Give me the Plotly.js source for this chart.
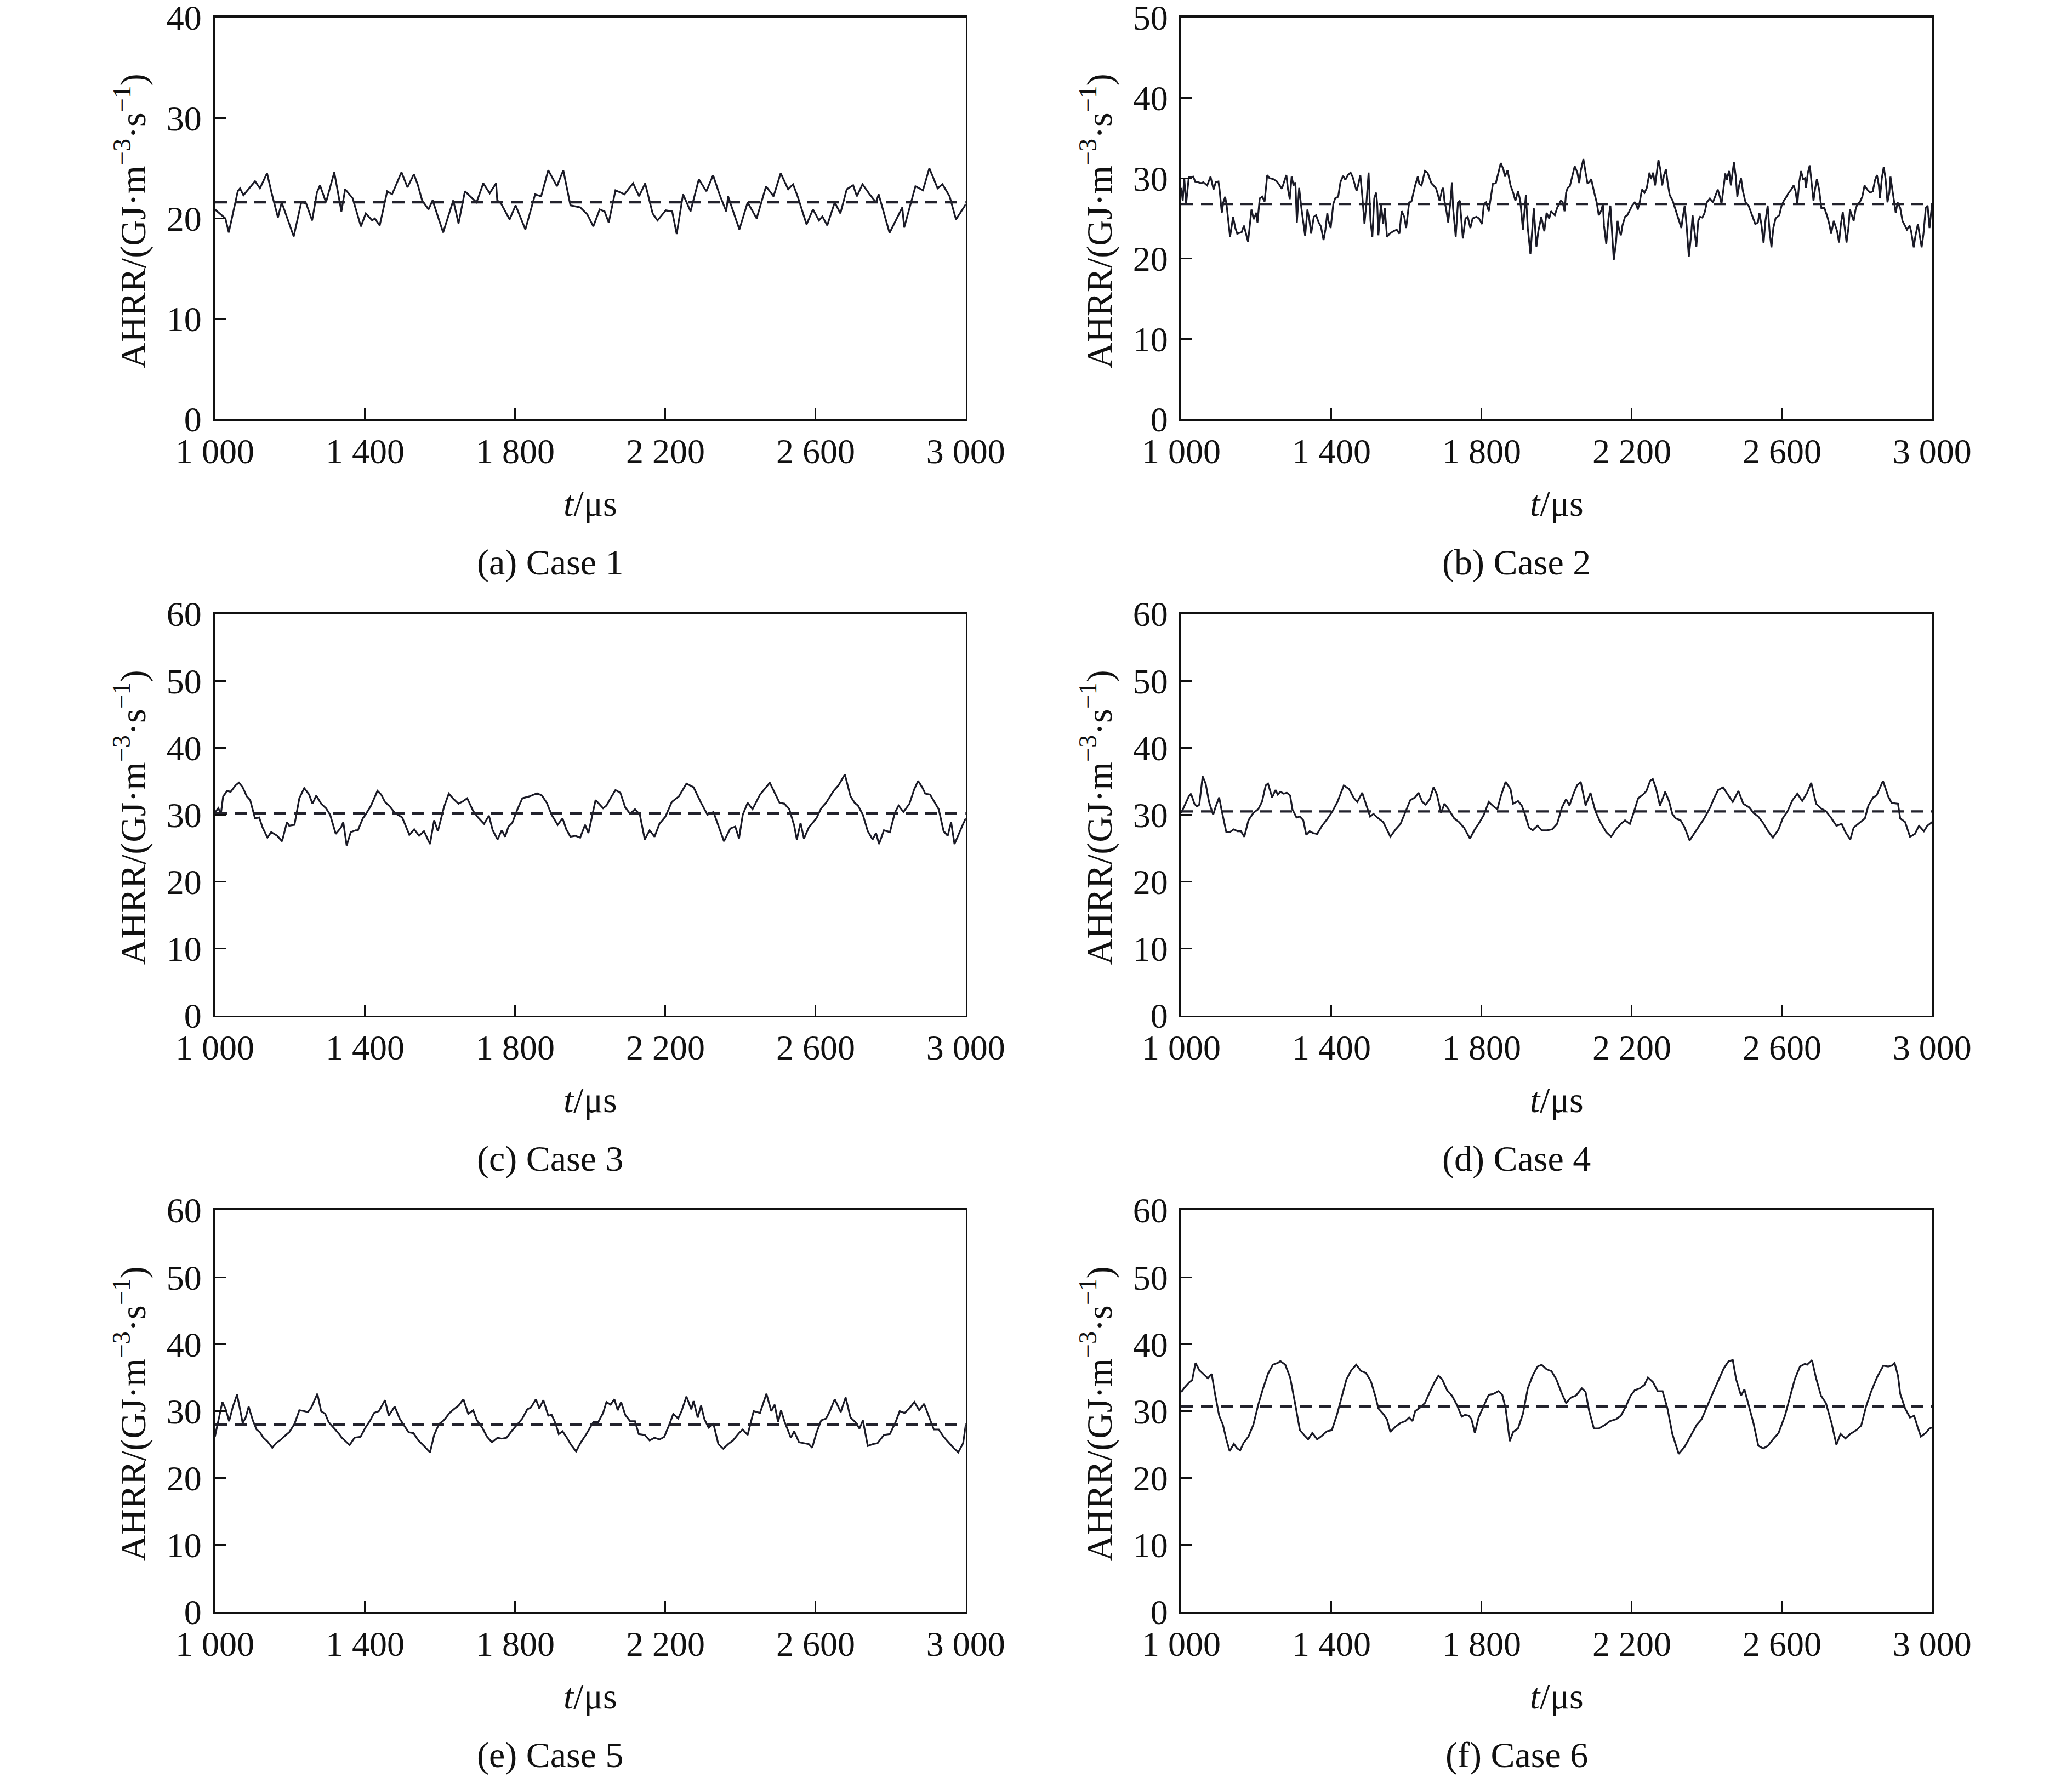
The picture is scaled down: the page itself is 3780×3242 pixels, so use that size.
<!DOCTYPE html>
<html>
<head>
<meta charset="utf-8">
<script src="https://cdn.plot.ly/plotly-3.0.1.min.js"></script>
<style>
  html, body { margin: 0; padding: 0; background: #fff; }
  #plot_ahrr { width: 3780px; height: 3242px; }
</style>
</head>
<body>
<div id="plot_ahrr"></div>
<script>
// time axis ticks (t / us)
var tickT = [1000, 1400, 1800, 2200, 2600, 3000];
var tickTText = ['1 000', '1 400', '1 800', '2 200', '2 600', '3 000'];

// y axis upper limits per case
var yMax = [40, 50, 60, 60, 60, 60];

// time-averaged AHRR (dashed lines)
var meanAHRR = [21.6, 26.8, 30.2, 30.5, 28.0, 30.7];

var caseLabels = ['(a) Case 1', '(b) Case 2', '(c) Case 3', '(d) Case 4', '(e) Case 5', '(f) Case 6'];

// ---- Case 1 ----
var timeA = [1000,1015,1028,1037,1061,1067,1076,1107,1120,1139,
  1152,1168,1178,1210,1230,1243,1259,1272,1280,1296,
  1318,1337,1347,1367,1389,1402,1419,1426,1439,1459,
  1472,1497,1513,1530,1540,1552,1569,1580,1608,1635,
  1649,1666,1697,1715,1732,1749,1752,1762,1785,1801,
  1827,1853,1869,1888,1911,1928,1947,1973,1992,2008,
  2025,2038,2049,2067,2091,2114,2130,2146,2166,2179,
  2201,2218,2230,2247,2267,2289,2309,2327,2344,2362,
  2367,2397,2419,2443,2468,2488,2507,2527,2540,2553,
  2576,2593,2609,2618,2631,2651,2666,2683,2700,2710,
  2725,2742,2761,2768,2797,2831,2836,2866,2886,2903,
  2925,2938,2957,2974,2986,3000];
var ahrrA = [20.9,20.4,20.0,18.6,22.7,23.0,22.3,23.7,23.0,24.5,
  22.4,20.1,21.6,18.2,21.6,21.5,19.8,22.6,23.3,21.6,
  24.6,20.7,22.9,22.0,19.2,20.5,19.8,20.0,19.3,22.7,
  22.4,24.6,23.1,24.4,23.4,21.8,20.9,21.8,18.6,21.8,
  19.5,22.7,21.6,23.5,22.5,23.5,21.8,21.5,19.9,21.3,
  18.9,22.4,22.2,24.8,23.2,24.8,21.3,21.1,20.4,19.2,
  20.9,20.7,19.6,22.8,22.4,23.5,22.2,23.5,20.5,19.8,
  20.8,20.7,18.45,22.4,20.7,23.9,22.7,24.3,22.4,20.7,
  22.2,18.9,21.6,20.0,23.2,22.2,24.5,22.9,23.4,22.1,
  19.4,20.9,19.8,20.2,19.3,21.6,20.5,22.9,23.3,22.2,
  23.4,22.5,21.6,22.4,18.55,21.1,19.1,23.2,22.8,25.0,
  23.0,23.4,22.2,19.9,20.6,21.4];

// ---- Case 2 ----
var timeB = [1000,1004,1008,1013,1020,1032,1037,1046,1053,1059,
  1069,1078,1086,1092,1099,1102,1108,1112,1117,1121,
  1130,1138,1144,1149,1161,1167,1178,1187,1193,1200,
  1203,1209,1216,1222,1229,1235,1245,1255,1268,1280,
  1284,1289,1294,1299,1304,1308,1314,1320,1330,1336,
  1341,1346,1353,1359,1366,1372,1379,1384,1389,1392,
  1398,1405,1410,1418,1424,1431,1437,1444,1451,1457,
  1467,1471,1477,1482,1488,1493,1499,1504,1509,1514,
  1519,1522,1525,1532,1538,1542,1548,1555,1565,1574,
  1581,1587,1594,1599,1607,1613,1623,1630,1634,1640,
  1649,1656,1666,1672,1679,1688,1695,1698,1701,1705,
  1711,1718,1721,1724,1731,1737,1742,1750,1757,1763,
  1770,1776,1786,1793,1801,1806,1812,1819,1825,1830,
  1838,1843,1851,1858,1862,1869,1877,1884,1890,1897,
  1903,1910,1913,1918,1923,1930,1934,1939,1946,1951,
  1959,1967,1973,1980,1985,1995,2001,2008,2011,2016,
  2021,2025,
  2029,2035,2048,2055,2060,2064,2071,2077,2082,2087,
  2092,2100,2107,2112,2119,2123,2126,2132,2138,2143,
  2147,2152,2158,2162,2167,2171,2175,2182,2188,2195,
  2201,2208,2212,2216,2221,2227,2234,2240,2247,2251,
  2257,2262,2266,2271,2276,2281,2286,2291,2296,2301,
  2309,2315,2322,2332,2336,2341,2346,2352,2358,2362,
  2367,2372,2377,2382,2388,2394,2400,2408,2416,2423,
  2429,2434,2439,2444,2449,2453,2459,2464,2468,2472,
  2477,2481,2486,2491,2496,2503,2511,2521,2529,2536,
  2540,2545,2551,2556,2562,2567,2572,2577,2583,2588,
  2593,2599,2605,2612,2618,2625,2631,2636,2641,2646,
  2651,2656,2661,2664,2669,2674,2679,2684,2688,2693,
  2699,2705,2713,2721,2726,2731,2738,2742,2747,2752,
  2757,2762,2766,2772,2777,2781,2786,2791,2796,2801,
  2807,2814,2820,2827,2835,2842,2848,2853,2858,2861,
  2866,2871,2876,2881,2886,2889,2894,2899,2903,2908,
  2915,2921,2928,2933,2940,2944,2951,2955,2962,2967,
  2972,2977,2983,2988,2993,2996,3000];
var ahrrB = [28.8,27.2,30.0,26.8,30.1,30.2,29.6,29.5,29.4,29.5,
  29.1,30.2,28.6,29.5,29.6,28.6,25.7,27.0,27.7,26.6,
  22.7,25.2,23.8,23.1,23.3,24.1,22.1,26.1,24.9,25.7,
  24.5,27.5,27.7,27.1,30.4,30.0,29.9,29.6,28.7,30.4,
  28.7,27.4,30.2,29.1,29.5,24.5,28.8,26.3,22.8,26.1,
  24.9,23.1,25.2,25.4,24.5,24.0,22.3,23.6,25.7,24.7,
  23.8,26.8,27.5,27.7,29.5,30.3,29.8,30.4,30.7,30.1,
  28.4,29.1,30.4,27.9,24.3,26.8,30.7,24.7,22.7,27.5,
  28.2,26.8,22.9,26.8,24.3,26.3,22.7,23.1,23.4,23.6,
  23.1,25.9,25.2,23.8,27.0,27.1,29.1,30.2,29.3,29.1,
  30.9,30.7,29.4,29.1,28.7,27.2,28.6,28.8,27.2,26.3,
  24.5,27.5,29.5,26.3,22.7,27.0,27.2,22.5,25.0,25.2,
  23.8,25.0,25.2,25.0,24.3,26.8,27.0,25.9,27.9,29.3,
  29.4,30.4,31.9,31.1,30.2,31.0,29.1,28.2,27.2,28.4,
  27.2,23.6,25.2,27.9,23.8,20.6,23.1,26.3,21.5,23.4,
  25.2,23.4,25.7,25.0,25.9,25.4,26.3,27.0,27.2,27.0,
  25.9,28.2,
  28.8,29.0,31.5,30.7,29.4,30.9,32.4,30.7,29.4,29.5,
  29.9,28.2,26.9,25.4,26.0,26.8,24.1,21.8,25.0,26.6,
  23.6,19.8,22.0,24.7,23.4,22.9,24.1,25.2,25.4,26.1,
  26.6,27.0,26.8,26.1,27.0,28.6,28.2,28.8,30.7,29.9,
  30.7,29.1,30.4,32.3,31.1,29.1,30.4,31.1,29.3,27.9,
  27.2,26.3,25.4,23.8,25.2,26.6,24.1,20.2,22.9,25.4,
  23.4,21.5,24.7,25.2,25.1,25.7,27.0,27.5,27.0,27.9,
  28.6,27.8,26.8,28.6,30.6,29.8,30.9,29.1,30.4,32.0,
  30.2,27.7,29.1,30.0,28.4,27.0,26.6,25.4,24.3,24.5,
  25.7,24.3,21.9,24.7,26.6,23.4,21.4,23.8,25.0,25.2,
  25.4,26.6,27.2,27.7,28.2,28.6,29.1,28.4,26.8,29.5,
  30.9,29.9,30.0,28.8,30.7,31.6,29.3,27.2,28.6,29.9,
  28.6,26.3,26.3,25.2,24.3,23.1,24.7,24.1,23.4,22.0,
  24.3,25.8,24.1,22.0,23.8,26.1,25.4,24.7,26.1,26.8,
  27.0,27.7,29.1,28.6,28.2,28.4,29.8,30.4,29.1,27.5,
  30.0,31.4,29.9,27.0,28.2,30.2,28.6,27.0,25.7,27.0,
  26.3,24.7,24.1,23.6,24.1,23.4,21.4,22.7,24.3,22.9,
  21.4,23.1,26.3,26.6,23.8,25.2,26.8];

// ---- Case 3 ----
var timeC = [1000,1009,1016,1022,1033,1042,1055,1064,1074,1085,
  1094,1107,1118,1127,1140,1150,1166,1179,1192,1198,
  1212,1225,1238,1251,1260,1270,1283,1296,1307,1322,
  1336,1342,1351,1362,1375,1381,1394,1401,1416,1433,
  1443,1453,1466,1479,1499,1518,1531,1544,1557,1573,
  1584,1594,1610,1623,1636,1649,1662,1672,1688,1701,
  1717,1730,1740,1753,1764,1773,1782,1792,1806,1819,
  1838,1858,1871,1884,1897,1913,1926,1936,1947,1960,
  1973,1986,1995,2014,2034,2043,2054,2067,2080,2093,
  2106,2119,2132,2145,2158,2171,2184,2200,2217,2236,
  2256,2275,2295,2312,2328,2347,2356,2373,2386,2396,
  2406,2419,2432,2452,2478,2491,2504,2517,2530,2543,
  2550,2560,2569,2582,2602,2615,2628,2648,2661,2678,
  2693,2704,2713,2726,2739,2752,2761,2769,2782,2798,
  2811,2821,2834,2850,2863,2873,2884,2892,2905,2928,
  2941,2952,2961,2970,2983,2993,3000];
var ahrrC = [30.3,31.0,30.15,32.75,33.57,33.43,34.39,34.8,34.11,32.75,
  32.2,29.46,29.6,28.1,26.59,27.41,26.86,26.04,28.91,28.37,
  28.5,32.47,33.98,33.02,31.65,32.88,31.65,30.97,30.0,27.13,
  28.1,28.91,25.41,27.41,27.68,27.68,29.46,30.0,31.38,33.57,
  33.02,31.92,31.24,30.28,29.6,27.0,27.82,26.86,27.55,25.63,
  29.19,27.55,31.1,33.16,32.33,31.65,32.06,32.47,30.56,29.6,
  28.64,29.87,27.68,26.31,27.68,26.72,28.23,28.78,30.83,32.47,
  32.75,33.21,32.88,31.79,30.0,28.5,29.46,27.82,26.72,26.86,
  26.59,28.5,27.27,32.2,30.97,31.38,32.47,33.7,33.29,31.1,
  30.15,30.83,30.0,26.31,27.68,26.72,28.64,29.73,31.92,32.75,
  34.66,34.11,31.79,30.0,30.42,27.55,26.04,27.96,28.23,26.45,
  30.0,31.79,30.83,33.02,34.8,33.29,31.79,31.65,30.83,28.37,
  26.31,28.78,26.45,28.1,29.46,30.97,31.79,33.57,34.39,36.03,
  32.75,31.79,31.38,30.0,27.55,26.31,27.27,25.63,27.68,27.41,
  30.28,31.38,30.42,31.65,33.84,35.07,34.11,33.16,33.02,30.83,
  27.55,26.86,28.91,25.63,27.41,28.64,29.46];

// ---- Case 4 ----
var timeD = [1000,1009,1020,1026,1035,1042,1048,1057,1065,1074,
  1085,1091,1101,1107,1120,1129,1140,1150,1159,1168,
  1179,1192,1205,1215,1225,1231,1242,1251,1257,1264,
  1273,1281,1290,1296,1307,1316,1325,1333,1342,1351,
  1362,1375,1390,1403,1416,1433,1447,1460,1469,1482,
  1495,1503,1512,1525,1538,1557,1571,1584,1594,1610,
  1623,1632,1642,1651,1662,1672,1681,1692,1701,1712,
  1727,1740,1753,1769,1782,1792,1806,1819,1832,1842,
  1851,1864,1877,1884,1897,1907,1916,1926,1936,1949,
  1960,1975,1988,2001,2014,2025,2034,2043,2054,2064,
  2077,2090,2103,2116,2132,2145,2158,2171,2182,2195,
  2204,2217,2230,2239,2249,2256,2265,2275,2289,2299,
  2308,2317,2330,2341,2354,2367,2380,2393,2409,2419,
  2430,2443,2456,2469,2484,2497,2513,2524,2537,2550,
  2563,2576,2591,2602,2615,2628,2641,2654,2667,2678,
  2691,2704,2717,2732,2745,2759,2769,2782,2791,2808,
  2821,2830,2843,2852,2869,2883,2892,2909,2915,2928,
  2941,2954,2965,2978,2987,3000];
var ahrrD = [30.28,31.37,32.74,33.15,31.65,31.24,31.51,35.75,34.66,31.92,
  30.0,31.1,32.6,30.83,27.4,27.4,27.82,27.54,27.54,26.72,
  29.18,30.28,30.83,31.92,34.38,34.66,32.6,33.7,33.02,33.43,
  33.15,33.29,32.88,30.83,29.59,29.73,29.18,26.99,27.54,27.27,
  27.13,28.36,29.46,30.55,31.92,34.38,33.84,32.47,31.92,33.29,
  31.1,29.73,30.14,29.46,28.91,26.72,27.82,28.64,30.0,32.19,
  32.6,33.29,31.92,31.51,32.33,34.11,33.02,30.28,31.65,30.83,
  29.46,28.91,28.09,26.45,27.82,28.64,30.0,31.92,31.24,30.83,
  32.74,34.93,33.84,31.65,32.06,31.37,30.0,28.09,27.68,28.36,
  27.68,27.68,27.82,28.64,31.1,32.33,31.37,32.88,34.38,34.93,
  31.37,33.29,30.55,28.91,27.4,26.72,27.82,28.64,29.18,28.64,
  30.14,32.47,33.02,33.56,35.07,35.34,33.84,31.37,33.43,32.06,
  30.14,29.46,29.18,28.09,26.17,27.27,28.36,29.46,31.1,32.47,
  33.7,34.11,33.02,31.92,33.56,31.65,31.1,30.28,29.73,28.77,
  27.54,26.58,27.82,29.46,30.55,32.19,33.15,32.06,33.29,34.79,
  31.65,30.96,30.55,29.46,28.36,28.64,27.4,26.31,28.09,28.91,
  29.46,31.37,32.6,32.88,35.07,32.74,31.78,31.65,29.46,28.91,
  26.72,27.13,28.36,27.54,28.36,28.91];

// ---- Case 5 ----
var timeE = [1000,1009,1020,1029,1038,1048,1059,1068,1074,1082,
  1090,1101,1111,1120,1129,1140,1153,1163,1176,1189,
  1198,1212,1225,1238,1248,1257,1273,1283,1294,1303,
  1316,1329,1338,1349,1359,1372,1388,1401,1414,1424,
  1437,1453,1463,1479,1492,1503,1516,1529,1542,1557,
  1573,1584,1597,1610,1625,1636,1649,1662,1675,1688,
  1698,1712,1725,1738,1753,1764,1777,1790,1806,1819,
  1832,1842,1855,1864,1875,1888,1897,1907,1916,1926,
  1936,1949,1962,1975,1988,1999,2008,2021,2034,2043,
  2054,2064,2073,2082,2093,2106,2119,2129,2145,2158,
  2171,2184,2197,2210,2221,2234,2243,2256,2269,2275,
  2286,2295,2304,2315,2328,2341,2354,2367,2380,2396,
  2406,2419,2435,2452,2469,2482,2491,2500,2508,2517,
  2524,2534,2543,2556,2569,2582,2591,2602,2615,2628,
  2638,2651,2667,2680,2693,2706,2717,2726,2739,2752,
  2765,2782,2798,2813,2824,2837,2850,2863,2876,2889,
  2902,2915,2928,2941,2954,2967,2980,2993,3000];
var ahrrE = [26.17,28.63,31.37,30.27,28.49,30.68,32.46,30.0,28.22,29.04,
  30.68,28.63,27.26,26.85,26.03,25.48,24.53,25.21,25.76,26.44,
  26.85,28.08,30.14,30.0,29.86,30.55,32.6,30.0,29.59,28.36,
  27.54,26.72,26.03,25.48,24.94,26.03,26.17,27.54,28.63,29.73,
  30.0,31.64,29.32,30.68,28.9,27.95,26.85,26.72,25.62,24.8,
  23.84,26.44,28.08,28.63,29.73,30.27,30.82,31.78,29.59,30.14,
  28.63,27.54,26.17,25.35,26.03,25.89,26.03,26.99,28.08,28.9,
  30.27,30.55,31.78,30.41,31.64,29.32,29.45,28.22,26.58,26.99,
  26.17,24.94,23.98,25.35,26.44,27.54,28.36,28.36,29.73,31.37,
  30.96,31.78,30.14,31.37,29.45,28.49,28.49,26.58,26.44,25.62,
  26.03,25.76,26.17,27.95,29.59,28.9,30.0,32.19,30.27,31.51,
  29.04,30.82,28.77,27.54,28.08,25.07,24.39,25.07,25.62,26.72,
  27.26,26.44,30.0,29.73,32.6,30.0,30.96,28.36,30.14,28.49,
  27.54,26.03,26.99,25.35,25.21,25.07,24.53,26.72,28.63,28.9,
  30.0,31.78,29.86,32.05,29.04,28.36,27.4,28.63,24.8,25.07,
  25.21,26.44,26.58,28.36,30.0,29.73,30.41,31.37,30.14,31.09,
  29.18,27.26,27.26,26.17,25.35,24.53,23.84,25.21,27.95];

// ---- Case 6 ----
var timeF = [1000,1009,1022,1029,1038,1048,1061,1071,1081,1090,
  1101,1111,1120,1129,1140,1149,1157,1166,1179,1192,
  1205,1218,1231,1244,1257,1264,1277,1290,1303,1316,
  1329,1338,1349,1362,1375,1388,1401,1414,1427,1440,
  1453,1466,1479,1492,1505,1518,1525,1538,1548,1557,
  1571,1584,1597,1607,1616,1623,1636,1649,1662,1675,
  1685,1695,1708,1721,1734,1747,1756,1766,1773,1782,
  1792,1803,1819,1832,1845,1855,1864,1875,1884,1897,
  1910,1923,1936,1949,1960,1973,1986,1999,2014,2025,
  2038,2051,2067,2077,2086,2099,2112,2129,2142,2158,
  2171,2184,2197,2208,2221,2234,2243,2256,2269,2282,
  2295,2308,2325,2341,2360,2373,2386,2400,2419,2432,
  2445,2458,2469,2478,2491,2500,2510,2524,2537,2550,
  2563,2576,2591,2608,2621,2634,2648,2661,2667,2680,
  2691,2704,2717,2732,2745,2756,2769,2782,2798,2811,
  2824,2837,2853,2870,2883,2892,2900,2909,2915,2928,
  2941,2952,2961,2970,2983,2993,3000];
var ahrrF = [32.85,33.53,34.35,34.62,37.2,36.11,35.43,34.89,35.57,32.58,
  29.32,27.96,25.79,24.02,25.11,24.43,24.16,25.25,26.2,27.96,
  30.95,33.4,35.57,36.93,37.2,37.47,36.93,35.03,31.22,27.15,
  26.33,25.79,26.74,25.79,26.33,27.0,27.15,29.32,32.04,34.75,
  36.11,36.93,35.98,35.7,34.48,32.04,30.41,29.59,28.78,26.88,
  27.69,28.23,28.51,29.05,28.51,30.0,30.54,31.22,32.85,34.35,
  35.3,34.75,33.12,32.31,30.95,29.18,29.46,29.32,28.78,26.74,
  29.05,30.41,32.45,32.58,32.99,32.45,30.41,25.52,26.88,27.42,
  29.59,33.4,35.3,36.66,36.93,36.25,35.98,34.75,32.58,31.22,
  32.04,32.31,33.4,32.85,30.14,27.42,27.42,27.96,28.51,28.78,
  29.32,30.68,32.31,33.12,33.4,33.94,35.03,34.35,32.99,32.99,
  30.41,26.6,23.61,24.7,26.6,27.96,28.78,30.68,33.12,34.75,
  36.38,37.47,37.61,34.75,32.31,33.26,31.22,28.23,24.84,24.43,
  24.84,25.79,26.74,29.32,32.04,34.75,36.66,37.06,36.93,37.61,
  34.89,32.31,31.22,28.23,24.97,26.6,25.92,26.6,27.15,27.83,
  30.68,32.85,35.03,36.79,36.66,36.79,37.2,35.3,32.58,30.41,
  29.05,29.32,27.69,26.2,26.74,27.42,27.55];

var allTime = [timeA, timeB, timeC, timeD, timeE, timeF];
var allAHRR = [ahrrA, ahrrB, ahrrC, ahrrD, ahrrE, ahrrF];

// panel placement in paper fractions (2 columns x 3 rows)
var colX = [[0.1037, 0.4661], [0.5701, 0.9325]];
var rowY = [[0.76404, 0.99013], [0.42844, 0.65453], [0.09284, 0.31894]];

var serif = 'Liberation Serif, Times New Roman, serif';
var ink = '#111111';

var data_plot = [];
var layout = {
  width: 3780,
  height: 3242,
  margin: {l: 0, r: 0, t: 0, b: 0},
  paper_bgcolor: '#ffffff',
  plot_bgcolor: '#ffffff',
  showlegend: false,
  font: {family: serif, color: ink},
  annotations: []
};

for (var i = 0; i < 6; i++) {
  var col = i % 2;
  var row = Math.floor(i / 2);
  var n = i === 0 ? '' : String(i + 1);
  var xa = 'x' + n, ya = 'y' + n;

  data_plot.push({
    x: allTime[i],
    y: allAHRR[i],
    xaxis: xa, yaxis: ya,
    type: 'scatter', mode: 'lines',
    line: {color: '#1a1a26', width: 3.2},
    hoverinfo: 'skip'
  });
  data_plot.push({
    x: [1000, 3000],
    y: [meanAHRR[i], meanAHRR[i]],
    xaxis: xa, yaxis: ya,
    type: 'scatter', mode: 'lines',
    line: {color: '#22222c', width: 4.2, dash: '22px,14px'},
    hoverinfo: 'skip'
  });

  layout['xaxis' + n] = {
    domain: colX[col], anchor: ya,
    range: [1000, 3000],
    tickmode: 'array', tickvals: tickT, ticktext: tickTText,
    ticks: 'inside', ticklen: 20, tickwidth: 3, tickcolor: ink,
    showline: true, linewidth: 3.5, linecolor: ink, mirror: true,
    showgrid: false, zeroline: false,
    tickfont: {family: serif, size: 64, color: ink},
    ticklabelstandoff: 0,
    ticklabeloverflow: 'allow'
  };
  layout['yaxis' + n] = {
    domain: rowY[row], anchor: xa,
    range: [0, yMax[i]],
    tick0: 0, dtick: 10,
    ticks: 'inside', ticklen: 20, tickwidth: 3, tickcolor: ink,
    showline: true, linewidth: 3.5, linecolor: ink, mirror: true,
    showgrid: false, zeroline: false,
    tickfont: {family: serif, size: 64, color: ink},
    ticklabelstandoff: 8,
    ticklabeloverflow: 'allow'
  };

  var cx = (colX[col][0] + colX[col][1]) / 2;
  var cy = (rowY[row][0] + rowY[row][1]) / 2;

  // y title
  layout.annotations.push({
    xref: 'paper', yref: 'paper',
    x: colX[col][0] - 0.0406, y: cy - 0.0017,
    xanchor: 'center', yanchor: 'middle', textangle: -90, showarrow: false,
    text: 'AHRR/(GJ\u00b7m<sup>\u22123</sup>\u00b7s<sup>\u22121</sup>)',
    font: {family: serif, size: 66, color: ink}
  });
  // x title
  layout.annotations.push({
    xref: 'paper', yref: 'paper',
    x: cx, y: rowY[row][0] - 0.0472,
    xanchor: 'center', yanchor: 'middle', showarrow: false,
    text: '<i>t</i>/\u03bcs',
    font: {family: serif, size: 66, color: ink}
  });
  // caption
  layout.annotations.push({
    xref: 'paper', yref: 'paper',
    x: cx - 0.0193, y: rowY[row][0] - 0.0805,
    xanchor: 'center', yanchor: 'middle', showarrow: false,
    text: caseLabels[i],
    font: {family: serif, size: 66, color: ink}
  });
}

Plotly.newPlot('plot_ahrr', data_plot, layout, {staticPlot: true, displayModeBar: false});
</script>
</body>
</html>
